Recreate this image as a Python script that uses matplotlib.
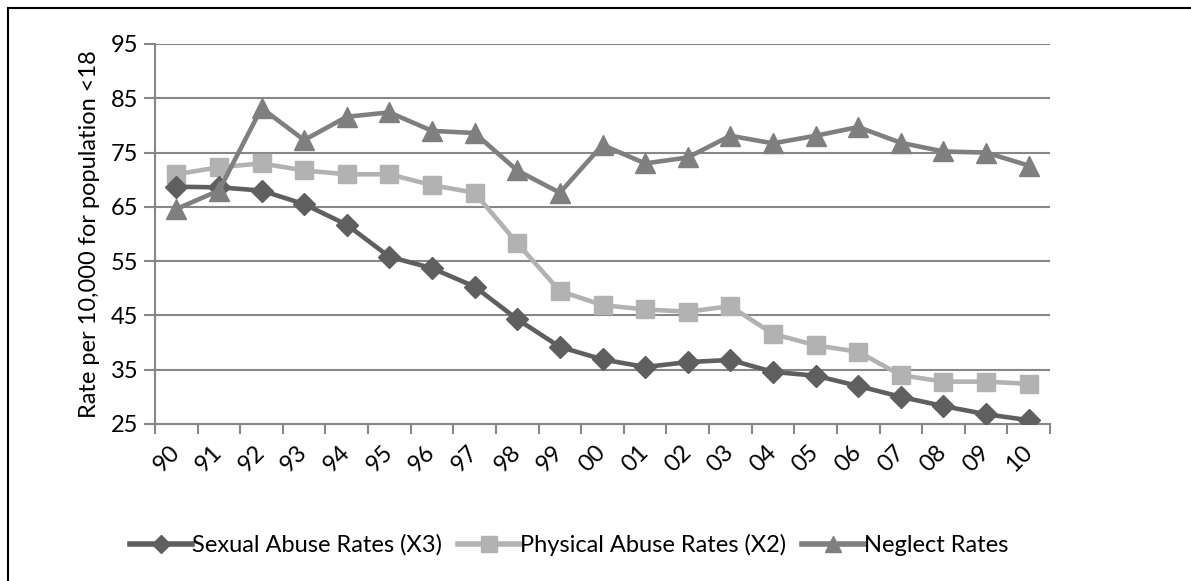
import matplotlib
matplotlib.use("Agg")
import matplotlib.pyplot as plt
import numpy as np
from matplotlib.lines import Line2D

years = ["90", "91", "92", "93", "94", "95", "96", "97", "98", "99", "00",
         "01", "02", "03", "04", "05", "06", "07", "08", "09", "10"]
sexual = [68.7, 68.6, 68.0, 65.5, 61.7, 55.8, 53.7, 50.3, 44.3, 39.2, 36.9,
          35.5, 36.4, 36.8, 34.6, 33.9, 32.0, 30.0, 28.3, 26.8, 25.7]
physical = [71.0, 72.3, 73.0, 71.7, 71.0, 71.0, 69.0, 67.6, 58.3, 49.5, 46.9,
            46.1, 45.7, 46.7, 41.6, 39.5, 38.3, 34.0, 32.8, 32.8, 32.4]
neglect = [64.6, 68.0, 83.2, 77.3, 81.6, 82.4, 79.0, 78.6, 71.7, 67.6, 76.4,
           73.0, 74.1, 78.1, 76.7, 78.1, 79.7, 76.8, 75.2, 75.0, 72.6]
yticks = [25, 35, 45, 55, 65, 75, 85, 95]
series_names = ["Sexual Abuse Rates (X3)", "Physical Abuse Rates (X2)", "Neglect Rates"]

plt.rcParams['font.family'] = ['Lato', 'DejaVu Sans']

W, H = 1191, 581
fig = plt.figure(figsize=(W / 100, H / 100), dpi=100)
ax = fig.add_axes([155 / W, (H - 424) / H, (1050 - 155) / W, (424 - 44) / H])

x = np.arange(len(years))
c_sex, c_phy, c_neg = "#5f5f5f", "#b2b2b2", "#7f7f7f"
grid_c = "#878787"
FS = 17

ax.plot(x, physical, color=c_phy, lw=3.3, marker="s", ms=13, zorder=3,
        label=series_names[1])
ax.plot(x, sexual, color=c_sex, lw=3.3, marker="D", ms=11, zorder=4,
        label=series_names[0])
ax.plot(x, neglect, color=c_neg, lw=3.3, marker="^", ms=15, zorder=5,
        label=series_names[2])

ax.set_xlim(-0.5, len(years) - 0.5)
ax.set_ylim(25, 95)
ax.set_yticks(yticks)
ax.set_yticklabels([str(v) for v in yticks], fontsize=FS)
for yv in yticks[1:]:
    ax.axhline(yv, color=grid_c, lw=1.5, zorder=1)

ax.set_xticks(np.arange(-0.5, len(years), 1.0))
ax.set_xticklabels([])
ax.tick_params(axis="x", which="major", length=7, width=1.5, color=grid_c, direction="out")
ax.set_xticks(x, minor=True)
ax.set_xticklabels(years, minor=True, fontsize=FS, rotation=45,
                   ha="right", va="center", rotation_mode="anchor")
ax.tick_params(axis="x", which="minor", length=0, pad=18)
ax.tick_params(axis="y", length=8, width=1.5, color=grid_c, pad=4)

for s in ["top", "right"]:
    ax.spines[s].set_visible(False)
for s in ["left", "bottom"]:
    ax.spines[s].set_color(grid_c)
    ax.spines[s].set_linewidth(1.5)

ax.set_ylabel("Rate per 10,000 for population <18", fontsize=FS, labelpad=8)

handles = [
    Line2D([], [], color=c_sex, lw=4, marker="D", ms=9),
    Line2D([], [], color=c_phy, lw=4, marker="s", ms=11),
    Line2D([], [], color=c_neg, lw=4, marker="^", ms=12),
]
fig.legend(handles, series_names, loc="center", bbox_to_anchor=(0.478, (H - 545) / H),
           ncol=3, frameon=False, fontsize=FS, handlelength=2.6, handletextpad=0.0,
           columnspacing=0.7)

# chart frame (top and left edges visible)
fig.add_artist(Line2D([8 / W, 8 / W], [0, (H - 8) / H], color="black", lw=1.5,
                      transform=fig.transFigure))
fig.add_artist(Line2D([8 / W, 1], [(H - 8) / H, (H - 8) / H], color="black", lw=1.5,
                      transform=fig.transFigure))

fig.savefig("out.png", dpi=100)
